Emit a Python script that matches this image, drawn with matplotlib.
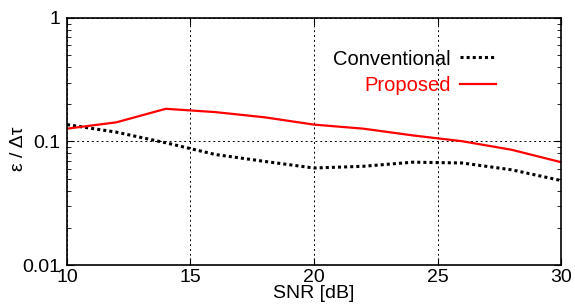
import matplotlib
matplotlib.use("Agg")
import matplotlib.pyplot as plt
from matplotlib.ticker import LogLocator, NullFormatter

plt.rcParams['font.family'] = ['Liberation Sans', 'DejaVu Sans']

snr = [10, 12, 14, 16, 18, 20, 22, 24, 26, 28, 30]
conventional = [0.137, 0.119, 0.0976, 0.0785, 0.069, 0.061, 0.063, 0.068, 0.067, 0.059, 0.0483]
proposed = [0.127, 0.143, 0.184, 0.173, 0.157, 0.137, 0.127, 0.112, 0.1005, 0.0857, 0.068]

xticks = [10, 15, 20, 25, 30]
yticks = [0.01, 0.1, 1]
ytick_labels = ["0.01", "0.1", "1"]

fig = plt.figure(figsize=(5.75, 3.08), dpi=100)
ax = fig.add_axes([0.1165, 0.1396, 0.8592, 0.802])

ax.plot(snr, conventional, color="black", linestyle=(0, (1, 1)), linewidth=2.2,
        label="Conventional")
ax.plot(snr, proposed, color="red", linewidth=1.6, label="Proposed")

ax.set_yscale("log")
ax.set_xlim(10, 30)
ax.set_ylim(0.01, 1)
ax.set_xticks(xticks)
ax.set_yticks(yticks)
ax.set_yticklabels(ytick_labels)
ax.yaxis.set_minor_locator(LogLocator(base=10, subs=range(2, 10)))
ax.yaxis.set_minor_formatter(NullFormatter())

ax.tick_params(which="both", direction="in", top=True, right=True, labelsize=14)
ax.tick_params(axis="x", pad=3)
ax.tick_params(axis="y", pad=5)
ax.tick_params(which="major", length=5, width=0.8)
ax.tick_params(which="minor", length=3, width=0.6)
for s in ax.spines.values():
    s.set_linewidth(1.2)

ax.grid(True, which="major", color="black", linestyle=(0, (2, 3)), linewidth=0.7)

ax.set_xlabel("SNR [dB]", fontsize=14, labelpad=-1)
ax.set_ylabel("ε / Δτ", fontsize=14)
ax.yaxis.set_label_coords(-0.081, 0.47)

leg = ax.legend(loc="upper right", bbox_to_anchor=(0.885, 0.905), frameon=False,
                markerfirst=False, fontsize=14.5, handlelength=1.8,
                handletextpad=0.45, labelspacing=0.35, borderaxespad=0)
for text, col in zip(leg.get_texts(), ["black", "red"]):
    text.set_color(col)

fig.savefig("out.png", dpi=100)
